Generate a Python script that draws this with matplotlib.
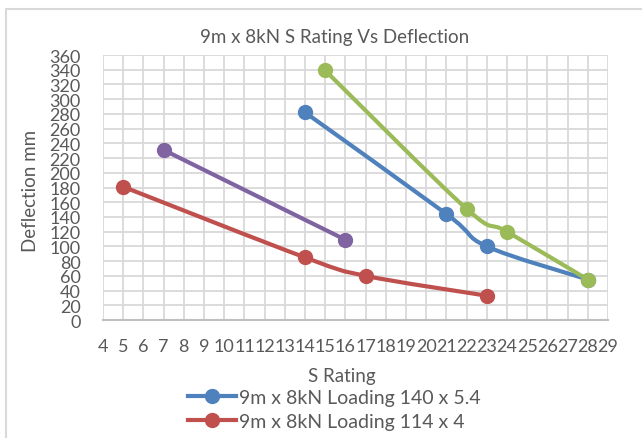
import numpy as np
import matplotlib
matplotlib.use("Agg")
import matplotlib.pyplot as plt
from matplotlib.path import Path
from matplotlib.patches import PathPatch, Rectangle
from matplotlib.lines import Line2D

plt.rcParams['font.family'] = ['Lato', 'DejaVu Sans']

# === data ===
blue_x = [14, 21, 23, 28]
blue_y = [282, 144, 100, 55]
red_x = [5, 14, 17, 23]
red_y = [181, 85, 60, 33]
purple_x = [7, 16]
purple_y = [231, 109]
green_x = [15, 22, 24, 28]
green_y = [339, 151, 120, 55]

blue_label = "9m x 8kN Loading 140 x 5.4"
red_label = "9m x 8kN Loading 114 x 4"

title = "9m x 8kN S Rating Vs Deflection"
x_ticks = list(range(4, 30))
y_ticks = list(range(0, 361, 20))

TXT = "#595959"
GRID = "#D9D9D9"


def smooth_path(xs, ys):
    # Excel-style smoothed line: cubic bezier segments through the points
    pts = np.column_stack([xs, ys]).astype(float)
    n = len(pts)
    verts = [pts[0]]
    codes = [Path.MOVETO]
    for i in range(n - 1):
        p0 = pts[i - 1] if i > 0 else pts[i]
        p1 = pts[i]
        p2 = pts[i + 1]
        p3 = pts[i + 2] if i + 2 < n else pts[i + 1]
        c1 = p1 + (p2 - p0) / 6.0
        c2 = p2 - (p3 - p1) / 6.0
        verts += [c1, c2, p2]
        codes += [Path.CURVE4] * 3
    return Path(verts, codes)


fig = plt.figure(figsize=(6.42, 4.39), dpi=100)
ax = fig.add_axes([103 / 642, 1 - 321 / 439, 505 / 642, 265 / 439])

series = [
    (blue_x, blue_y, "#4F81BD"),
    (red_x, red_y, "#C0504D"),
    (purple_x, purple_y, "#8064A2"),
    (green_x, green_y, "#9BBB59"),
]
for xs, ys, col in series:
    ax.add_patch(PathPatch(smooth_path(xs, ys), fill=False, edgecolor=col,
                           lw=3, capstyle='round', joinstyle='round', zorder=3))
    ax.plot(xs, ys, linestyle='none', marker='o', markersize=10,
            color=col, zorder=4)

ax.set_xlim(4, 29)
ax.set_ylim(0, 360)
ax.set_xticks(x_ticks)
ax.set_yticks(y_ticks)
ax.tick_params(axis='both', length=0, labelsize=13, labelcolor=TXT)
ax.tick_params(axis='x', pad=13)
ax.tick_params(axis='y', pad=16)
ax.grid(True, color=GRID, lw=1.3)
ax.set_axisbelow(True)
for s in ['top', 'right', 'left']:
    ax.spines[s].set_visible(False)
ax.spines['bottom'].set_color("#BFBFBF")
ax.spines['bottom'].set_linewidth(1.5)

fig.text(335 / 642, 1 - 38 / 439, title, ha='center', va='center',
         fontsize=13.5, color=TXT)
fig.text(30 / 642, 1 - 191 / 439, "Deflection mm", rotation=90,
         ha='center', va='center', fontsize=13.5, color=TXT)
fig.text(342 / 642, 1 - 377 / 439, "S Rating", ha='center', va='center',
         fontsize=13.5, color=TXT)

handles = [
    Line2D([], [], color="#4F81BD", lw=3, marker='o', markersize=10),
    Line2D([], [], color="#C0504D", lw=3, marker='o', markersize=10),
]
fig.legend(handles, [blue_label, red_label], loc='upper left',
           bbox_to_anchor=(178 / 642, 1 - 380 / 439), frameon=False,
           fontsize=14, labelcolor=TXT, handlelength=2.5,
           handletextpad=0.15, labelspacing=0.35, borderpad=0)

# chart area border (only left and top edges show)
fig.patches.append(Rectangle((6 / 642, -0.1), 1.2, 1 - 10 / 439 + 0.1,
                             transform=fig.transFigure, fill=False,
                             edgecolor=GRID, lw=1.5))

fig.savefig("out.png", dpi=100)
